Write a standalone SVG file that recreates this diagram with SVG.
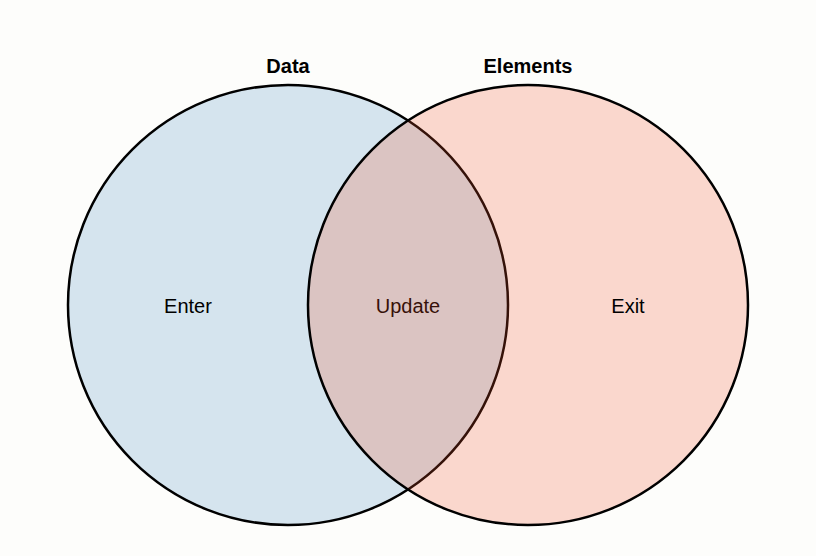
<svg xmlns="http://www.w3.org/2000/svg" width="816" height="556" viewBox="0 0 816 556">
<style>
text{font-family:"Liberation Sans",Arial,sans-serif;font-size:20px;text-anchor:middle;fill:#000}
.t{font-weight:bold}
.c{stroke:#000;stroke-width:2.5}
</style>
<rect width="816" height="556" fill="#fdfdfb"/>
<g id="data">
<circle class="c" cx="288" cy="305" r="220" fill="#d5e4ee"/>
<text class="t" x="288" y="73">Data</text>
</g>
<g id="enter"><text x="188" y="313">Enter</text></g>
<g id="update"><text x="408" y="313">Update</text></g>
<g id="elements">
<circle class="c" cx="528" cy="305" r="220" fill="rgb(240,80,40)" fill-opacity="0.22"/>
<text class="t" x="528" y="73">Elements</text>
</g>
<g id="exit"><text x="628" y="313">Exit</text></g>
<g id="connectors"></g>
</svg>
